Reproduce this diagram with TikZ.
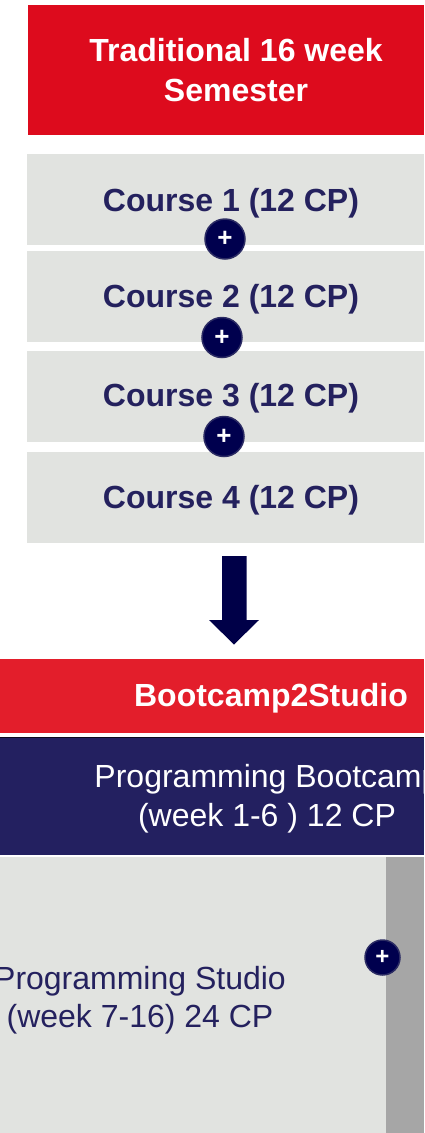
\documentclass[tikz,border=0pt]{standalone}
\usepackage{fontspec}
\setmainfont{Liberation Sans}
\definecolor{topred}{HTML}{DD0B1D}
\definecolor{barred}{HTML}{E31E2B}
\definecolor{lightgray}{HTML}{E1E3E0}
\definecolor{midgray}{HTML}{A6A6A6}
\definecolor{navytext}{HTML}{24215E}
\definecolor{navyband}{HTML}{232060}
\definecolor{plusnavy}{HTML}{00004E}
\definecolor{plusedge}{HTML}{2B2B63}
\definecolor{arrownavy}{HTML}{000048}
\tikzset{
  bigbold/.style={font=\fontsize{32}{40}\selectfont\bfseries, inner sep=0pt, align=center},
  bigreg/.style={font=\fontsize{32}{38.5}\selectfont, inner sep=0pt, align=center},
  plusnode/.style={circle, fill=plusnavy, draw=plusedge, line width=1.5pt, minimum size=40pt, inner sep=0pt, text=white, font=\fontsize{26}{26}\selectfont\bfseries},
}
\begin{document}
\begin{tikzpicture}[x=1pt, y=-1pt]
\useasboundingbox (0,0) rectangle (424,1133);
\clip (0,0) rectangle (424,1133);
\fill[white] (0,0) rectangle (424,1133);
% title
\fill[topred] (28,5) rectangle (424,135);
\node[bigbold, text=white] (title) at (236,70) {Traditional 16 week\\Semester};
% courses
\fill[lightgray] (27,154) rectangle (424,245);
\fill[lightgray] (27,251) rectangle (424,341.5);
\fill[lightgray] (27,351) rectangle (424,441.5);
\fill[lightgray] (27,452) rectangle (424,542.5);
\node[bigbold, text=navytext] (c1) at (231,203) {Course 1 (12 CP)};
\node[bigbold, text=navytext] (c2) at (231,299) {Course 2 (12 CP)};
\node[bigbold, text=navytext] (c3) at (231,398.5) {Course 3 (12 CP)};
\node[bigbold, text=navytext] (c4) at (231,500) {Course 4 (12 CP)};
\node[plusnode] (p1) at (225,239) {+};
\node[plusnode] (p2) at (222,337.5) {+};
\node[plusnode] (p3) at (224,436.5) {+};
% arrow
\fill[arrownavy] (222,556) -- (246.5,556) -- (246.5,620) -- (259,620) -- (234,644.5) -- (209,620) -- (222,620) -- cycle;
% Bootcamp2Studio bar
\fill[barred] (0,659) rectangle (424,733);
\node[bigbold, text=white] (b2s) at (271,698) {Bootcamp2Studio};
% bootcamp band
\fill[navyband] (0,736.5) rectangle (424,855);
\draw[black!70!navyband, line width=1pt] (0,737) -- (424,737);
\node[bigreg, text=white] (boot) at (267,798.5) {Programming Bootcamp\\(week 1-6 ) 12 CP};
% studio
\fill[lightgray] (0,857) rectangle (386,1133);
\fill[midgray] (386,857) rectangle (424,1133);
\node[bigreg, text=navytext] (studio) at (140,1000) {Programming Studio\\(week 7-16) 24 CP};
\node[plusnode, minimum size=35pt, font=\fontsize{24}{24}\selectfont\bfseries] (p4) at (382.5,957.5) {+};
\end{tikzpicture}
\end{document}
